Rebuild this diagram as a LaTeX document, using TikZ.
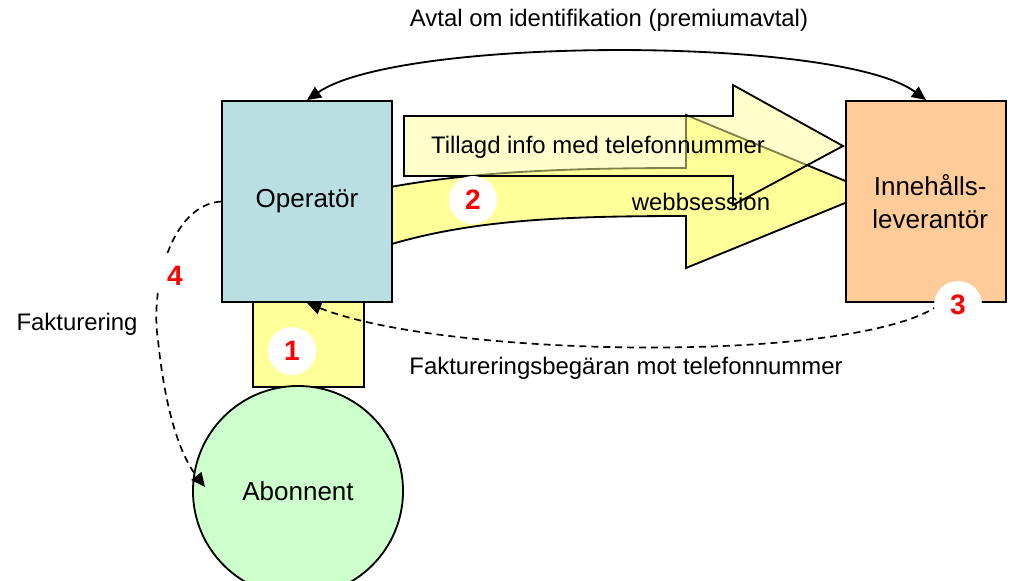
\documentclass[tikz,border=0pt]{standalone}
\usepackage{fontspec}
\setmainfont{Liberation Sans}
\usetikzlibrary{arrows.meta}
\definecolor{operblue}{HTML}{B9DFE3}
\definecolor{levorange}{HTML}{FFCC99}
\definecolor{boxyellow}{HTML}{FFFF99}
\definecolor{abongreen}{HTML}{CCFFCC}
\tikzset{
  box/.style={draw,line width=1.3pt,inner sep=0pt,font=\fontsize{18.5}{23.5}\selectfont},
  lbl/.style={inner sep=0pt,font=\fontsize{17}{20}\selectfont},
  numcirc/.style={circle,fill=white,minimum size=1.2cm,inner sep=0pt,text=red,
    font=\fontsize{20}{24}\selectfont\bfseries},
  flow/.style={line width=1.2pt,dash pattern=on 5pt off 3.5pt,-{Triangle[length=10pt,width=9pt]}},
  bigarrow/.style={draw,line width=1.3pt,fill=boxyellow}
}
\begin{document}
\begin{tikzpicture}[x=0.025cm,y=-0.025cm]
\useasboundingbox (0,0) rectangle (1018,580);
\draw[bigarrow] (385,188) .. controls (470,172) and (560,168) .. (686,168) -- (686,115)
  -- (872,192) -- (686,268) -- (686,216) .. controls (560,216) and (470,220) .. (385,246) -- cycle;
\draw[bigarrow,fill opacity=0.5] (404,116) -- (733,116) -- (733,85) -- (843,146)
  -- (733,205) -- (733,176) -- (404,176) -- cycle;
\node[box,fill=operblue,minimum width=4.25cm,minimum height=5.025cm] (oper) at (307,201.5) {Operatör};
\node[box,fill=levorange,minimum width=4cm,minimum height=5.025cm,align=center] (inne) at (926,201.5) {\hspace*{6pt}Innehålls-\\\hspace*{6pt}leverantör};
\node[box,fill=boxyellow,minimum width=2.775cm,minimum height=2.125cm] (ident) at (308.5,344.5) {};
\node[box,circle,fill=abongreen,minimum size=5.25cm] (abon) at (298,491) {Abonnent};
\node[lbl] (avtal) at (609,20) {Avtal om identifikation (premiumavtal)};
\node[lbl] (tillagd) at (598,147) {Tillagd info med telefonnummer};
\node[lbl] (webb) at (701,202) {webbsession};
\node[lbl] (fakbeg) at (626,368) {Faktureringsbegäran mot telefonnummer};
\node[lbl] (fakt) at (77,324) {Fakturering};
\draw[line width=1.3pt,{Triangle[length=10pt,width=9pt]}-{Triangle[length=10pt,width=9pt]}]
  (oper.north) .. controls (400,36) and (840,36) .. (inne.north);
\coordinate (s3) at (948,297);
\coordinate (e4) at (205,487);
\draw[flow] (s3) .. controls (890,365) and (450,360) .. (oper.south);
\draw[flow] (oper.west) .. controls (170,205) and (150,290) .. (158,340)
  .. controls (165,410) and (180,455) .. (e4);
\foreach \i/\x/\y in {1/292/351,2/473/200,3/958/305,4/175/276}
{
    \node[numcirc] (n\i) at (\x,\y) {\i};
}
\end{tikzpicture}
\end{document}
